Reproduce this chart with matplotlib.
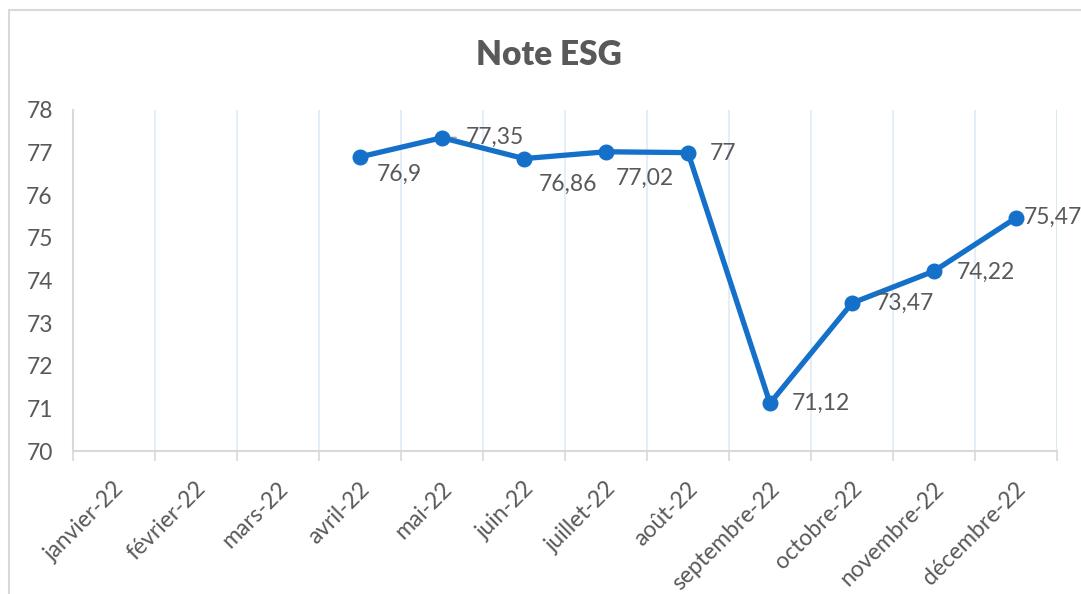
import matplotlib
matplotlib.use("Agg")
import matplotlib.pyplot as plt
import matplotlib.transforms as mtransforms
from matplotlib.patches import Rectangle

plt.rcParams["font.family"] = ["Lato", "DejaVu Sans"]

months = ["janvier-22", "février-22", "mars-22", "avril-22", "mai-22", "juin-22",
          "juillet-22", "août-22", "septembre-22", "octobre-22", "novembre-22", "décembre-22"]
# only April to December have a score
score_months = months[3:]
scores = [76.9, 77.35, 76.86, 77.02, 77.0, 71.12, 73.47, 74.22, 75.47]
score_labels = ["76,9", "77,35", "76,86", "77,02", "77", "71,12", "73,47", "74,22", "75,47"]
# label offsets in pixels (dx to left edge, dy to centre)
label_offsets = [(17, -17), (24, 0), (15, -26), (10, -27), (22, -1),
                 (22, 0), (24, 0), (23, -1), (8, 0)]

text_color = "#595959"
line_color = "#1470C8"
axis_color = "#D9D9D9"
grid_color = "#DEEBF7"
fs = 16.5

fig = plt.figure(figsize=(10.81, 5.94), dpi=100)
ax = fig.add_axes([73 / 1081, 1 - 451 / 594, (1057 - 73) / 1081, (451 - 110) / 594])

# chart frame
fig.patches.append(Rectangle((9 / 1081, -0.1), 1.2, 1.1 - 10 / 594,
                             transform=fig.transFigure, fill=False,
                             edgecolor=axis_color, linewidth=1.5))

x_all = list(range(len(months)))
x_scores = [months.index(m) for m in score_months]

ax.plot(x_scores, scores, color=line_color, linewidth=3.8, marker="o",
        markersize=10.5, zorder=3)

for x, y, lab, (dx, dy) in zip(x_scores, scores, score_labels, label_offsets):
    ax.annotate(lab, (x, y), xytext=(dx, dy), textcoords="offset pixels",
                ha="left", va="center", fontsize=fs, color=text_color, zorder=4)

# small leader line for the mai-22 label
ax.annotate("", (x_scores[1], scores[1]), xytext=(x_scores[1] + 0.17, scores[1]),
            arrowprops=dict(arrowstyle="-", color="#A6A6A6", lw=1.5,
                            shrinkA=0, shrinkB=4), zorder=2)

ax.set_xlim(-0.5, len(months) - 0.5)
ax.set_ylim(70, 78)
ax.set_yticks(range(70, 79))
ax.set_xticks(x_all)
ax.set_xticklabels([])

# rotated month labels, placed a bit left/below the category centre
lab_trans = mtransforms.blended_transform_factory(ax.transData, ax.transAxes) + \
    mtransforms.ScaledTranslation(-1 / 100, -27 / 100, fig.dpi_scale_trans)
for x, m in zip(x_all, months):
    ax.text(x, 0, m, transform=lab_trans, rotation=45, ha="right", va="top",
            rotation_mode="anchor", fontsize=fs, color=text_color)

# vertical grid between categories
for b in range(1, len(months) + 1):
    ax.axvline(b - 0.5, color=grid_color if b < len(months) else "#D6E4F0",
               linewidth=1.2, zorder=0)

ax.set_xticks([b - 0.5 for b in range(len(months) + 1)], minor=True)
ax.tick_params(axis="x", which="minor", length=7, width=1.2, color=axis_color,
               direction="out")
ax.tick_params(axis="x", which="major", length=0)
ax.tick_params(axis="y", length=0, pad=14.5, labelsize=fs, labelcolor=text_color)

for side in ["top", "right"]:
    ax.spines[side].set_visible(False)
ax.spines["left"].set_color(axis_color)
ax.spines["left"].set_linewidth(1.5)
ax.spines["bottom"].set_color(axis_color)
ax.spines["bottom"].set_linewidth(1.5)

fig.text(549 / 1081, 1 - 55 / 594, "Note ESG", ha="center", va="center",
         fontsize=24, fontweight="heavy", color=text_color)

fig.savefig("out.png", dpi=100)
